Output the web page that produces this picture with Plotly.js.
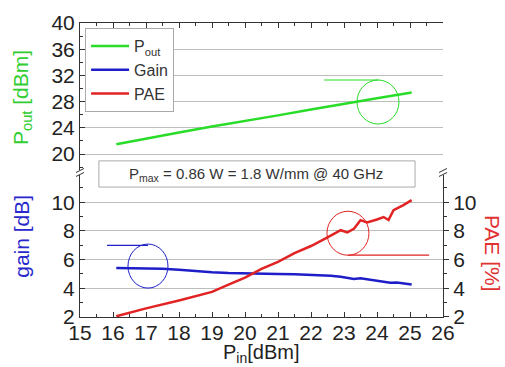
<!DOCTYPE html>
<html>
<head>
<meta charset="utf-8">
<script src="https://cdn.plot.ly/plotly-3.0.1.min.js"></script>
<style>html,body{margin:0;padding:0;background:#fff;}#chart{width:505px;height:367px;}</style>
</head>
<body>
<div id="chart"></div>
<script>
// ---- data ----
const pinPout = [16.1, 17, 18, 19, 20, 21, 22, 23, 24, 25.05];
const pout    = [21.5, 22.4, 23.3, 24.2, 25.0, 25.9, 26.8, 27.6, 28.5, 29.4];

const pinGain = [16.1, 16.5, 17, 17.5, 18, 18.5, 19, 19.5, 20, 20.5, 21, 21.5, 22, 22.3, 22.6, 22.9, 23.1, 23.3, 23.5, 23.8, 24.0, 24.2, 24.4, 24.6, 24.8, 25.05];
const gain    = [5.42, 5.42, 5.40, 5.37, 5.30, 5.20, 5.12, 5.07, 5.03, 5.00, 5.00, 4.98, 4.95, 4.90, 4.88, 4.80, 4.70, 4.65, 4.70, 4.58, 4.50, 4.45, 4.38, 4.40, 4.33, 4.27];

const pinPae = [16.1, 17, 18, 19, 19.5, 20, 20.5, 21, 21.5, 22, 22.5, 22.9, 23.1, 23.3, 23.5, 23.7, 24.0, 24.2, 24.35, 24.5, 24.8, 25.05];
const pae    = [2.05, 2.6, 3.15, 3.75, 4.25, 4.75, 5.35, 5.85, 6.45, 6.95, 7.55, 8.05, 7.9, 8.15, 8.75, 8.6, 8.8, 8.97, 8.76, 9.45, 9.8, 10.15];

const xRange    = [15, 26];
const poutRange = [17.56, 40];
const lowRange  = [2, 11.9];

const GREEN = 'rgb(40,220,40)';
const BLUE  = 'rgb(30,30,200)';
const RED   = 'rgb(225,35,35)';
const FONT  = 'Liberation Sans, Arial, sans-serif';
const AX    = '#333';

const traces = [
  {x: pinPout, y: pout, xaxis: 'x2', yaxis: 'y', mode: 'lines', name: 'P<sub>out</sub>',
   line: {color: GREEN, width: 2.5}},
  {x: pinGain, y: gain, xaxis: 'x', yaxis: 'y3', mode: 'lines', name: 'Gain',
   line: {color: BLUE, width: 2.5}},
  {x: pinPae, y: pae, xaxis: 'x', yaxis: 'y4', mode: 'lines', name: 'PAE',
   line: {color: RED, width: 2.5}}
];

const tickFont = {family: FONT, size: 21, color: '#222'};

function yAx(extra) {
  return Object.assign({
    showline: true, linecolor: AX, linewidth: 1, zeroline: false,
    tickfont: tickFont, tickmode: 'linear', tick0: 0, ticklen: 5, tickcolor: AX,
    gridcolor: '#bdbdbd', gridwidth: 1
  }, extra);
}

const layout = {
  width: 505, height: 367,
  margin: {l: 80, r: 62, t: 23, b: 50},
  paper_bgcolor: '#fff', plot_bgcolor: '#fff',
  font: {family: FONT, color: '#222'},
  showlegend: true,
  legend: {x: 0.014, y: 0.983, xanchor: 'left', yanchor: 'top', itemwidth: 38,
           bgcolor: '#fff', bordercolor: '#aaa', borderwidth: 1,
           font: {family: FONT, size: 16, color: '#333'}, tracegroupgap: 0},
  xaxis: {domain: [0, 1], range: xRange, anchor: 'y3', showline: true, linecolor: AX,
          zeroline: false, showgrid: false, tickmode: 'linear', tick0: 15, dtick: 1,
          ticks: 'inside', ticklen: 5, tickcolor: AX, tickfont: tickFont, ticklabelstandoff: -3,
          minor: {ticks: 'inside', ticklen: 3, dtick: 0.5, tickcolor: AX, showgrid: false}},
  xaxis2: {domain: [0, 1], range: xRange, anchor: 'y', side: 'top', showline: true,
           linecolor: AX, zeroline: false, showgrid: false, showticklabels: false,
           tickmode: 'linear', tick0: 15, dtick: 1, ticks: 'inside', ticklen: 5, tickcolor: AX,
           minor: {ticks: 'inside', ticklen: 3, dtick: 0.5, tickcolor: AX, showgrid: false}},
  yaxis: yAx({domain: [0.5, 1], range: poutRange, anchor: 'x2', dtick: 4,
              ticks: 'inside', showgrid: true,
              minor: {ticks: 'inside', ticklen: 3, dtick: 2, tickcolor: AX, showgrid: false}}),
  yaxis2: yAx({overlaying: 'y', side: 'right', range: poutRange, anchor: 'x2', dtick: 4,
               ticks: 'outside', showgrid: false,
               minor: {ticks: 'outside', ticklen: 3, dtick: 2, tickcolor: AX, showgrid: false}}),
  yaxis3: yAx({domain: [0, 0.483], range: lowRange, anchor: 'x', dtick: 2,
               ticks: 'inside', showgrid: true,
               minor: {ticks: 'inside', ticklen: 3, dtick: 1, tickcolor: AX, showgrid: false}}),
  yaxis4: yAx({overlaying: 'y3', side: 'right', range: lowRange, anchor: 'x', dtick: 2,
               ticks: 'outside', showgrid: false,
               minor: {ticks: 'outside', ticklen: 3, dtick: 1, tickcolor: AX, showgrid: false}}),
  shapes: [
    // annotation box
    {type: 'rect', xref: 'paper', yref: 'paper', x0: 0.052, x1: 0.923, y0: 0.442, y1: 0.531,
     line: {color: '#aaa', width: 1}, fillcolor: '#fff', layer: 'above'},
    // Pout marker circle + pointer line
    {type: 'circle', xref: 'x2', yref: 'y', xsizemode: 'pixel', ysizemode: 'pixel',
     xanchor: 24.03, yanchor: 27.94, x0: -21, x1: 21, y0: -22, y1: 22,
     line: {color: GREEN, width: 1}},
    {type: 'line', xref: 'x2', yref: 'y', x0: 22.4, x1: 24.05, y0: 31.3, y1: 31.3,
     line: {color: GREEN, width: 1.2}},
    // Gain marker circle + pointer line
    {type: 'circle', xref: 'x', yref: 'y3', xsizemode: 'pixel', ysizemode: 'pixel',
     xanchor: 17.06, yanchor: 5.55, x0: -20, x1: 20, y0: -22, y1: 22,
     line: {color: BLUE, width: 1}},
    {type: 'line', xref: 'x', yref: 'y3', x0: 15.82, x1: 17.06, y0: 7.0, y1: 7.0,
     line: {color: BLUE, width: 1.2}},
    // PAE marker circle + pointer line
    {type: 'circle', xref: 'x', yref: 'y4', xsizemode: 'pixel', ysizemode: 'pixel',
     xanchor: 23.12, yanchor: 7.84, x0: -21, x1: 21, y0: -22, y1: 22,
     line: {color: RED, width: 1}},
    {type: 'line', xref: 'x', yref: 'y4', x0: 23.12, x1: 25.58, y0: 6.31, y1: 6.31,
     line: {color: RED, width: 1.2}},
    // axis break marks (left)
    {type: 'line', xref: 'paper', yref: 'paper', xsizemode: 'pixel', ysizemode: 'pixel',
     xanchor: 0, yanchor: 0.4915, x0: -4, x1: 4, y0: -4, y1: 0, line: {color: AX, width: 1}},
    {type: 'line', xref: 'paper', yref: 'paper', xsizemode: 'pixel', ysizemode: 'pixel',
     xanchor: 0, yanchor: 0.4915, x0: -4, x1: 4, y0: 0, y1: 4, line: {color: AX, width: 1}},
    // axis break marks (right)
    {type: 'line', xref: 'paper', yref: 'paper', xsizemode: 'pixel', ysizemode: 'pixel',
     xanchor: 1, yanchor: 0.4915, x0: -4, x1: 4, y0: -4, y1: 0, line: {color: AX, width: 1}},
    {type: 'line', xref: 'paper', yref: 'paper', xsizemode: 'pixel', ysizemode: 'pixel',
     xanchor: 1, yanchor: 0.4915, x0: -4, x1: 4, y0: 0, y1: 4, line: {color: AX, width: 1}}
  ],
  annotations: [
    {xref: 'paper', yref: 'paper', x: 0.485, y: 0.486, xanchor: 'center', yanchor: 'middle',
     showarrow: false, text: 'P<sub>max</sub> = 0.86 W = 1.8 W/mm @ 40 GHz',
     font: {family: FONT, size: 15, color: '#333'}},
    {xref: 'paper', yref: 'paper', x: -0.16, y: 0.748, xanchor: 'center', yanchor: 'middle',
     showarrow: false, textangle: -90, text: 'P<sub>out</sub> [dBm]',
     font: {family: FONT, size: 21, color: 'rgb(50,205,50)'}},
    {xref: 'paper', yref: 'paper', x: -0.16, y: 0.276, xanchor: 'center', yanchor: 'middle',
     showarrow: false, textangle: -90, text: 'gain [dB]',
     font: {family: FONT, size: 21, color: 'rgb(40,40,205)'}},
    {xref: 'paper', yref: 'paper', x: 1.135, y: 0.218, xanchor: 'center', yanchor: 'middle',
     showarrow: false, textangle: 90, text: 'PAE [%]',
     font: {family: FONT, size: 21, color: 'rgb(225,50,50)'}},
    {xref: 'paper', yref: 'paper', x: 0.5, y: -0.123, xanchor: 'center', yanchor: 'middle',
     showarrow: false, text: 'P<sub>in</sub>[dBm]',
     font: {family: FONT, size: 20, color: '#222'}}
  ]
};

Plotly.newPlot('chart', traces, layout, {displayModeBar: false, staticPlot: true});
</script>
</body>
</html>
